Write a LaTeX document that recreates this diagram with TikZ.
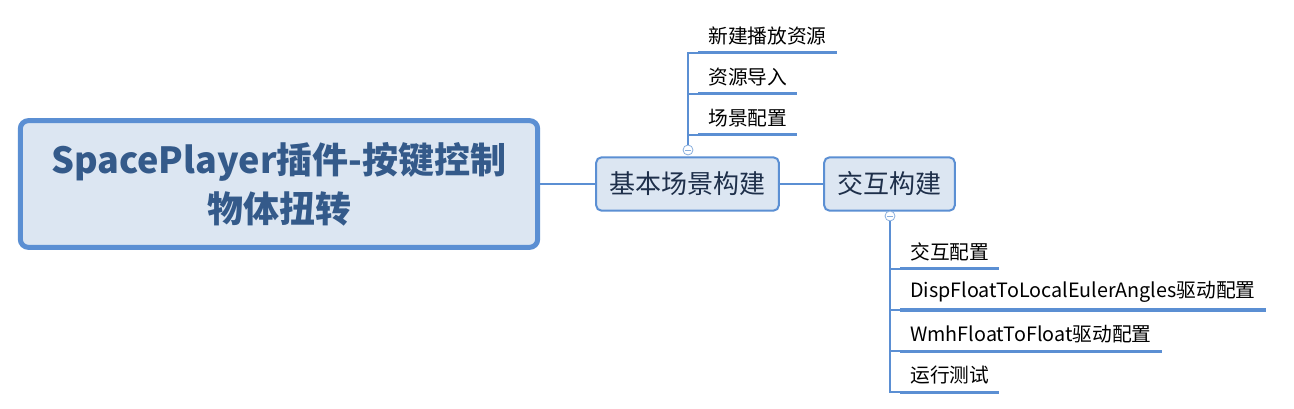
\documentclass[tikz,border=0pt]{standalone}
\usepackage{fontspec}
\setmainfont{Noto Sans CJK SC}
\usepackage{tikz}
\usetikzlibrary{positioning}
\definecolor{linkblue}{HTML}{5B8FD3}
\definecolor{boxfill}{HTML}{DCE6F2}
\definecolor{titleblue}{HTML}{345A8A}
\definecolor{topicnavy}{HTML}{1E2F4A}
\definecolor{knobblue}{HTML}{8AAFDD}

\begin{document}
\begin{tikzpicture}[x=0.75pt,y=-0.75pt,
    central/.style={draw=linkblue,line width=3.75pt,fill=boxfill,rounded corners=6pt,
        minimum width=388pt,minimum height=95pt,align=center,text=titleblue,
        font=\bfseries\fontsize{27}{37}\selectfont},
    topic/.style={draw=linkblue,line width=1.5pt,fill=boxfill,rounded corners=4pt,
        inner xsep=10pt,minimum height=40pt,text=topicnavy,
        font=\fontsize{19.5}{23}\selectfont},
    subtopic/.style={anchor=south west,inner xsep=7.5pt,inner ysep=5.5pt,
        font=\fontsize{14.8}{17}\selectfont},
    link/.style={draw=linkblue,line width=0.9pt},
    underline/.style={draw=linkblue,line width=2.25pt},
    knob/.style={circle,draw=knobblue,fill=white,line width=0.6pt,minimum size=7.5pt,
        inner sep=0pt,path picture={\draw[knobblue,line width=0.6pt]
        ([xshift=-2pt]path picture bounding box.center) --
        ([xshift=2pt]path picture bounding box.center);}}]

    \useasboundingbox (0,0) rectangle (1294,409);

    \node[central] (root) at (279,184) {SpacePlayer插件-按键控制\\物体扭转};
    \node[topic] (scene) at (687.5,184) {基本场景构建};
    \node[topic] (inter) at (889.5,184) {交互构建};

    \path[link] (root) edge (scene)
                (scene) edge (inter);

    % branches of 基本场景构建
    \node[knob] (k1) at (688,150) {};
    \node[subtopic] (s1) at (698,53) {新建播放资源};
    \node[subtopic] (s2) at (698,94) {资源导入};
    \node[subtopic] (s3) at (698,135) {场景配置};
    \foreach \s in {s1,s2,s3} {
        \draw[link] (k1) |- (\s.south west);
        \draw[underline] (\s.south west) -- (\s.south east);
    }

    % branches of 交互构建
    \node[knob] (k2) at (890,216) {};
    \node[subtopic] (b1) at (900,269) {交互配置};
    \node[subtopic] (b2) at (900,310) {DispFloatToLocalEulerAngles驱动配置};
    \node[subtopic] (b3) at (900,351) {WmhFloatToFloat驱动配置};
    \node[subtopic] (b4) at (900,392) {运行测试};
    \foreach \b in {b1,b2,b3,b4} {
        \draw[link] (k2) |- (\b.south west);
        \draw[underline] (\b.south west) -- (\b.south east);
    }
\end{tikzpicture}
\end{document}
